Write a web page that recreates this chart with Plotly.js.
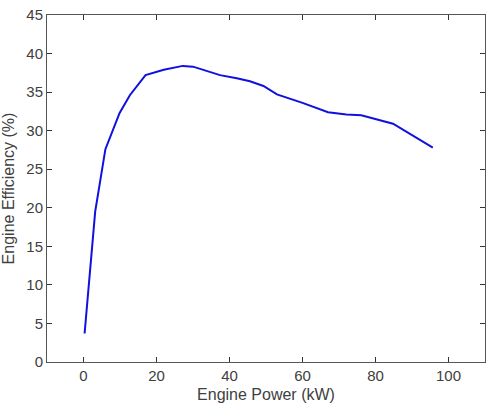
<!DOCTYPE html>
<html><head><meta charset="utf-8">
<script src="https://cdn.plot.ly/plotly-3.0.1.min.js"></script>
<style>html,body{margin:0;padding:0;background:#fff}#c{width:499px;height:406px}</style>
</head><body><div id="c"></div>
<script>
const power = [0.3, 3.2, 6.0, 9.9, 12.7, 17.0, 22.0, 27.2, 30.0, 37.4, 42.0, 45.6, 49.3, 53.0, 60.0, 67.0, 72.0, 76.1, 84.8, 95.7];
const efficiency = [3.7, 19.5, 27.6, 32.3, 34.6, 37.2, 37.9, 38.4, 38.3, 37.2, 36.8, 36.4, 35.8, 34.7, 33.6, 32.4, 32.1, 32.0, 30.9, 27.8];
const xTicks = [0, 20, 40, 60, 80, 100];
const yTicks = [0, 5, 10, 15, 20, 25, 30, 35, 40, 45];

const FONT = 'Liberation Sans, Arial, sans-serif';
const axisCommon = {
  showline: true, linecolor: '#555', linewidth: 1, mirror: 'ticks',
  ticks: 'inside', ticklen: 5, tickcolor: '#333', showgrid: false, zeroline: false,
  tickfont: {family: FONT, size: 15, color: '#404040'}
};
Plotly.newPlot('c', [{
  x: power, y: efficiency, type: 'scatter', mode: 'lines',
  line: {color: '#1010e0', width: 2}
}], {
  width: 499, height: 406,
  margin: {l: 47, r: 14, t: 15, b: 44},
  paper_bgcolor: '#fff', plot_bgcolor: '#fff',
  showlegend: false,
  xaxis: Object.assign({}, axisCommon, {
    range: [-10, 110], tickvals: xTicks,
    title: {text: 'Engine Power (kW)', standoff: 5, font: {family: FONT, size: 16, color: '#404040'}}
  }),
  yaxis: Object.assign({}, axisCommon, {
    range: [0, 45], tickvals: yTicks,
    title: {text: 'Engine Efficiency (%)', standoff: 7, font: {family: FONT, size: 16, color: '#404040'}}
  })
}, {staticPlot: true});
</script></body></html>
